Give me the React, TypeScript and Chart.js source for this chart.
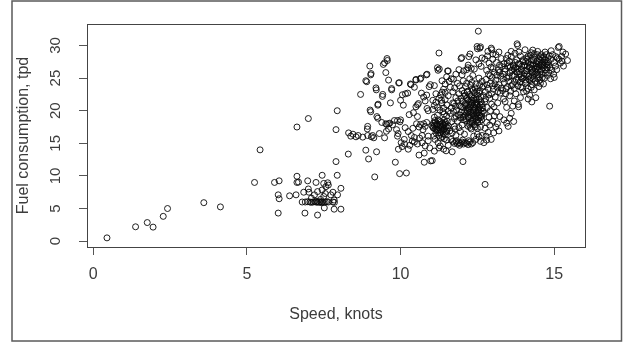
import React, { useEffect, useRef } from "react";
import { Chart, registerables } from "chart.js";

Chart.register(...registerables);

const xTicks = [0, 5, 10, 15];
const yTicks = [0, 5, 10, 15, 20, 25, 30];
const xTitle = "Speed, knots";
const yTitle = "Fuel consumption, tpd";

const lowSpeed: number[][] = [
  [0.45, 0.5], [1.38, 2.2], [1.76, 2.85], [1.95, 2.15], [2.28, 3.8], [2.42, 5.0], [3.6, 5.9], [4.14, 5.25],
];

const slowSteaming: number[][] = [
  [5.25, 9.0], [5.43, 14.0], [5.9, 9.0], [6.05, 9.25], [6.02, 7.1], [6.05, 6.5], [6.02, 4.3], [6.39, 6.95],
  [6.6, 7.1], [6.63, 9.95], [6.63, 9.0], [6.68, 9.05], [6.63, 17.5], [7.0, 18.8], [6.85, 7.5], [6.89, 4.3],
  [6.98, 9.25], [7.02, 7.5], [7.2, 7.1], [7.3, 4.0], [7.25, 9.0], [7.45, 10.1], [7.5, 8.85], [7.63, 8.95],
  [7.52, 5.1], [7.73, 7.1], [7.84, 6.3], [7.95, 7.1], [7.94, 10.1], [8.06, 8.1], [7.84, 4.9], [8.06, 4.9],
  [7.9, 12.2], [7.9, 17.1], [7.94, 20.0], [7.45, 7.85], [7.57, 8.35], [7.8, 7.5], [7.5, 6.85], [7.0, 8.0],
  [7.3, 7.6], [7.65, 8.6], [7.55, 7.3], [7.1, 6.6], [7.4, 6.4],
];

const sixTpd: number[][] = [
  [6.8, 6.0], [6.9, 6.0], [6.98, 6.05], [7.05, 6.0], [7.1, 5.95], [7.15, 6.0], [7.2, 6.05], [7.25, 6.0],
  [7.3, 5.95], [7.35, 6.0], [7.4, 6.05], [7.45, 6.0], [7.5, 5.95], [7.55, 6.0], [7.6, 6.05], [7.65, 6.0],
  [7.8, 6.0], [7.85, 5.95], [7.42, 5.9], [7.28, 6.1],
];

const transition: number[][] = [
  [8.3, 13.35], [8.31, 16.6], [8.38, 16.1], [8.55, 16.0], [8.7, 22.5], [8.77, 15.95], [8.87, 13.95], [8.93, 16.2],
  [8.96, 12.6], [9.0, 26.85], [8.9, 24.45], [9.03, 25.5], [9.03, 19.85], [8.92, 17.2], [9.09, 16.2], [9.13, 15.85],
  [9.16, 9.85], [9.22, 13.7], [9.21, 23.2], [9.26, 18.85], [9.26, 20.85], [9.31, 16.5], [9.39, 18.2], [9.41, 22.2],
  [9.44, 27.1], [9.48, 27.35], [9.52, 25.85], [9.57, 27.7], [9.61, 24.7], [9.52, 18.0], [9.61, 18.0], [9.74, 17.85],
  [9.48, 15.85], [9.54, 16.85], [9.61, 17.2], [9.67, 21.2], [9.71, 23.2], [9.83, 12.1], [9.8, 18.5], [9.87, 17.1],
  [9.9, 16.1], [9.93, 14.1], [9.94, 24.25], [9.97, 10.35], [9.56, 28.0], [9.04, 25.7], [8.87, 24.6], [9.2, 23.5],
  [9.42, 22.5], [9.71, 23.4], [9.96, 24.3], [9.27, 21.0], [9.01, 20.1], [9.23, 19.1], [8.93, 17.6], [9.55, 17.9],
  [9.65, 18.1], [9.9, 18.5], [9.98, 18.3], [9.92, 16.5], [8.45, 16.4], [8.62, 16.2], [9.05, 16.0],
];

const band10: number[][] = [
  [10.02, 15.1], [10.05, 14.5], [10.12, 15.6], [10.25, 14.1], [10.38, 15.35], [10.3, 14.7], [10.45, 15.2], [10.55, 14.9],
  [10.62, 15.8], [10.7, 15.1], [10.8, 14.6], [10.9, 15.4], [10.95, 14.3], [10.0, 18.6], [10.0, 21.6], [10.06, 22.45],
  [10.09, 20.85], [10.16, 22.6], [10.23, 22.7], [10.32, 24.1], [10.34, 24.0], [10.45, 23.6], [10.5, 24.7], [10.5, 24.8],
  [10.66, 25.0], [10.64, 24.85], [10.68, 22.7], [10.84, 25.5], [10.86, 25.6], [10.97, 24.0], [10.93, 23.7], [10.52, 18.0],
  [10.55, 19.1], [10.58, 21.1], [10.5, 20.6], [10.55, 20.9], [10.73, 17.1], [10.6, 17.5], [10.65, 17.9], [10.75, 18.0],
  [10.8, 17.6], [10.85, 18.2], [10.9, 16.1], [10.86, 20.35], [10.9, 20.0], [10.8, 21.5], [10.75, 22.1], [10.85, 22.4],
  [10.7, 16.2], [10.35, 16.2], [10.45, 15.9], [10.25, 16.8], [10.15, 17.4], [10.4, 17.3], [10.77, 13.5], [10.77, 12.1],
  [10.6, 13.2], [10.98, 12.3], [10.19, 10.45], [10.13, 14.9], [10.28, 19.4], [10.42, 19.7],
];

const band11a: number[][] = [
  [11.03, 12.35], [11.07, 18.1], [11.1, 23.85], [11.16, 17.1], [11.2, 26.6], [11.25, 28.85], [11.22, 15.1], [11.29, 14.6],
  [11.33, 21.6], [11.35, 22.85], [11.38, 19.85], [11.42, 18.6], [11.46, 16.35], [11.48, 13.85], [11.55, 26.1], [11.26, 26.4],
  [11.22, 26.2], [11.53, 26.1], [11.05, 17.5], [11.1, 17.8], [11.12, 17.2], [11.18, 17.6], [11.2, 18.0], [11.25, 17.4],
  [11.28, 17.9], [11.3, 17.1], [11.32, 18.3], [11.35, 17.6], [11.38, 17.0], [11.4, 17.8], [11.43, 17.3], [11.45, 18.2],
  [11.48, 17.6], [11.5, 16.9], [11.52, 18.4], [11.55, 17.7], [11.15, 16.6], [11.24, 16.2], [11.36, 16.0], [11.42, 15.7],
  [11.5, 15.5], [11.3, 15.8], [11.12, 15.6], [11.08, 16.1], [11.05, 20.2], [11.1, 20.8], [11.15, 21.3], [11.2, 20.5],
  [11.25, 21.9], [11.28, 20.1], [11.35, 21.2], [11.4, 20.4], [11.45, 21.7], [11.5, 20.9], [11.55, 19.9], [11.5, 19.2],
  [11.42, 19.5], [11.2, 19.3], [11.1, 19.0], [11.3, 22.4], [11.45, 22.8], [11.4, 23.3], [11.55, 22.3], [11.15, 22.6],
  [11.05, 21.6], [11.25, 14.3], [11.4, 14.1], [11.55, 14.7], [11.1, 13.8], [11.45, 24.1], [11.35, 24.6], [11.5, 25.2],
  [11.58, 24.5],
];

const core11: number[][] = [
  [11.07, 17.33], [11.13, 18.21], [11.17, 17.91], [11.23, 17.07], [11.27, 18.44], [11.31, 17.52], [11.34, 16.88],
  [11.37, 18.07], [11.41, 17.12], [11.44, 17.96], [11.47, 16.73], [11.53, 17.37], [11.19, 16.97], [11.29, 16.58],
  [11.39, 16.42], [11.22, 18.62], [11.11, 18.47], [11.02, 17.73],
];

const band11b: number[][] = [
  [11.62, 23.6], [11.64, 15.6], [11.68, 13.7], [11.72, 24.85], [11.74, 21.1], [11.77, 17.2], [11.81, 19.1], [11.97, 28.0],
  [12.0, 25.5], [12.03, 12.2], [11.99, 28.15], [11.75, 15.0], [11.8, 15.2], [11.85, 14.9], [11.9, 15.1], [11.95, 15.0],
  [12.0, 15.2], [12.05, 14.9], [12.1, 15.1], [11.82, 15.4], [11.92, 14.7], [12.02, 15.5], [11.7, 15.3], [11.62, 19.6],
  [11.65, 20.4], [11.66, 18.3], [11.7, 21.2], [11.72, 19.9], [11.75, 18.8], [11.78, 20.7], [11.8, 22.0], [11.82, 20.1],
  [11.85, 18.4], [11.86, 21.5], [11.88, 19.4], [11.9, 22.6], [11.92, 20.8], [11.95, 18.9], [11.96, 21.9], [11.98, 19.8],
  [12.0, 23.1], [12.02, 20.5], [12.05, 18.6], [12.06, 22.2], [12.08, 19.2], [11.7, 22.9], [11.76, 23.5], [11.85, 24.2],
  [11.92, 23.8], [12.04, 24.6], [11.65, 24.9], [11.8, 25.6], [11.9, 26.3], [12.05, 26.1], [11.68, 16.6], [11.8, 16.2],
  [11.95, 16.8], [12.08, 16.4], [11.75, 17.6], [11.9, 17.4], [12.0, 17.8], [11.6, 16.9],
];

const band12a: number[][] = [
  [12.07, 22.7], [12.19, 26.6], [12.26, 28.7], [12.32, 24.35], [12.38, 16.1], [12.45, 21.1], [12.49, 29.85], [12.53, 32.2],
  [12.58, 29.6], [12.65, 28.1], [12.71, 15.1], [12.75, 8.7], [12.5, 29.5], [12.6, 29.8], [12.2, 27.0], [12.22, 28.3],
  [12.15, 26.3], [12.3, 26.5], [12.4, 26.4], [12.45, 27.8], [12.55, 27.2], [12.62, 26.8], [12.12, 18.5], [12.14, 19.6],
  [12.15, 20.8], [12.16, 21.9], [12.18, 23.0], [12.2, 19.1], [12.22, 20.3], [12.24, 21.4], [12.25, 22.5], [12.26, 18.2],
  [12.28, 19.8], [12.3, 20.9], [12.32, 22.0], [12.33, 23.3], [12.35, 18.7], [12.36, 19.4], [12.38, 20.6], [12.4, 21.6],
  [12.41, 22.8], [12.43, 19.0], [12.44, 20.1], [12.46, 18.4], [12.48, 21.3], [12.5, 22.4], [12.5, 19.7], [12.52, 20.5],
  [12.54, 18.9], [12.55, 21.8], [12.57, 23.0], [12.58, 19.3], [12.6, 20.2], [12.62, 22.1], [12.64, 18.6], [12.65, 21.0],
  [12.66, 23.6], [12.68, 19.9], [12.2, 17.6], [12.3, 17.2], [12.4, 17.8], [12.5, 17.3], [12.6, 17.5], [12.15, 24.2],
  [12.25, 24.9], [12.35, 25.4], [12.45, 24.1], [12.55, 25.0], [12.65, 24.5], [12.12, 23.7], [12.28, 23.9], [12.42, 23.5],
  [12.58, 24.0], [12.22, 21.0], [12.34, 21.2], [12.46, 20.8], [12.56, 20.6], [12.18, 19.9], [12.4, 19.2], [12.15, 15.0],
  [12.2, 14.8], [12.25, 15.2], [12.3, 14.9], [12.22, 15.4], [12.35, 15.1], [12.45, 15.6], [12.55, 16.0], [12.6, 15.3],
  [12.5, 16.4], [12.65, 16.2],
];

const core12: number[][] = [
  [11.93, 19.35], [11.97, 20.62], [12.01, 21.47], [12.04, 19.03], [12.09, 20.91], [12.11, 22.34], [12.13, 18.77],
  [12.17, 20.12], [12.19, 21.66], [12.21, 18.93], [12.23, 19.71], [12.27, 20.58], [12.29, 22.17], [12.31, 19.26],
  [12.34, 18.42], [12.37, 20.03], [12.39, 21.92], [12.42, 20.44], [12.44, 18.81], [12.47, 19.52], [12.49, 21.07],
  [12.51, 18.23], [12.53, 19.94], [12.56, 22.69], [12.59, 20.87], [12.61, 18.97], [12.63, 19.63], [12.67, 20.49],
  [12.69, 22.33], [12.24, 17.88], [12.33, 18.06], [12.43, 17.52], [12.52, 18.61], [12.17, 22.87], [12.36, 23.11],
  [12.48, 22.96], [12.27, 17.43], [12.61, 21.38], [12.09, 19.87], [12.41, 20.97], [12.54, 20.13], [12.31, 21.61],
  [12.2, 20.49], [12.38, 19.69], [12.64, 19.18], [12.12, 21.12], [12.46, 21.74], [12.57, 18.31],
];

const band12b: number[][] = [
  [12.78, 16.1], [12.84, 29.1], [12.97, 29.35], [13.03, 16.6], [13.1, 17.5], [13.23, 19.1], [12.95, 29.6], [13.0, 28.7],
  [12.72, 19.6], [12.74, 21.4], [12.76, 22.9], [12.78, 24.8], [12.8, 26.2], [12.82, 20.5], [12.85, 23.4], [12.86, 25.6],
  [12.88, 27.3], [12.9, 21.9], [12.92, 24.2], [12.94, 26.7], [12.96, 22.6], [12.98, 25.1], [13.0, 27.9], [13.02, 23.3],
  [13.04, 20.6], [13.06, 25.9], [13.08, 22.1], [13.1, 24.7], [13.12, 27.4], [13.14, 23.6], [13.16, 21.2], [13.18, 26.3],
  [13.2, 24.0], [13.22, 27.0], [13.24, 22.7], [13.26, 25.3], [13.28, 28.0], [12.75, 17.3], [12.8, 18.2], [12.85, 16.7],
  [12.9, 17.8], [12.95, 15.6], [13.0, 18.4], [13.05, 19.2], [13.15, 18.0], [13.2, 16.9], [12.8, 15.5], [12.88, 19.0],
  [12.92, 20.0], [12.74, 27.9], [12.83, 28.4], [13.1, 28.6], [13.2, 29.0], [12.7, 23.8], [12.96, 21.0], [13.12, 19.8],
  [12.77, 21.83], [12.81, 23.97], [12.87, 22.41], [12.91, 25.36], [12.99, 23.79], [13.01, 26.46], [13.07, 24.12],
  [13.13, 25.44], [13.17, 22.93], [13.21, 25.88], [13.27, 23.46], [13.29, 26.77],
];

const band13: number[][] = [
  [13.36, 18.6], [13.45, 18.1], [13.49, 28.5], [13.55, 18.85], [13.68, 18.35], [13.81, 30.0], [13.84, 20.6], [13.79, 30.26],
  [13.83, 20.96], [13.6, 19.6], [13.5, 17.6], [13.7, 21.5], [13.9, 22.0], [13.65, 20.7], [13.32, 23.1], [13.34, 25.6],
  [13.36, 27.2], [13.38, 24.3], [13.4, 26.4], [13.42, 22.6], [13.44, 28.0], [13.46, 25.0], [13.48, 23.7], [13.5, 26.9],
  [13.52, 24.5], [13.54, 27.6], [13.56, 25.8], [13.58, 23.0], [13.6, 28.3], [13.62, 26.2], [13.64, 24.0], [13.66, 27.0],
  [13.68, 25.4], [13.7, 23.4], [13.72, 28.8], [13.74, 26.6], [13.76, 24.8], [13.78, 27.8], [13.8, 25.9], [13.82, 23.8],
  [13.84, 27.2], [13.86, 26.0], [13.88, 24.4], [13.9, 28.4], [13.92, 25.2], [13.94, 26.8], [13.96, 23.5], [13.98, 27.5],
  [13.4, 21.4], [13.55, 22.3], [13.75, 22.6], [13.95, 24.9], [13.85, 29.0], [13.6, 29.1], [13.45, 20.5], [13.35, 21.8],
  [13.33, 24.88], [13.39, 26.03], [13.43, 23.37], [13.47, 27.34], [13.53, 25.21], [13.57, 26.69], [13.61, 23.84], [13.69, 26.41],
];

const band14: number[][] = [
  [14.05, 29.35], [14.27, 21.35], [14.46, 29.1], [14.65, 24.1], [14.3, 29.3], [14.02, 25.3], [14.04, 27.0], [14.06, 24.2],
  [14.08, 26.2], [14.1, 28.1], [14.12, 25.6], [14.14, 23.4], [14.16, 27.4], [14.18, 24.8], [14.2, 26.6], [14.22, 28.5],
  [14.24, 25.1], [14.26, 27.8], [14.28, 24.0], [14.3, 26.0], [14.32, 27.2], [14.34, 25.5], [14.36, 28.2], [14.38, 24.5],
  [14.4, 26.9], [14.42, 25.8], [14.44, 27.6], [14.46, 24.9], [14.48, 26.3], [14.5, 28.0], [14.52, 25.2], [14.54, 27.0],
  [14.56, 26.0], [14.58, 28.6], [14.6, 25.6], [14.62, 27.3], [14.64, 26.6], [14.66, 28.3], [14.68, 25.0], [14.7, 27.8],
  [14.72, 26.3], [14.74, 28.6], [14.76, 27.0], [14.78, 25.4], [14.0, 22.9], [14.1, 23.0], [14.2, 22.4], [14.35, 23.2],
  [14.5, 23.7], [14.15, 21.8], [14.4, 22.0], [14.55, 24.2], [14.08, 24.7], [14.28, 26.4], [14.44, 26.7], [14.6, 27.0],
  [14.25, 28.9], [14.45, 28.6], [14.7, 29.0], [14.12, 26.8],
];

const core14: number[][] = [
  [13.63, 25.37], [13.67, 26.83], [13.71, 24.42], [13.73, 27.41], [13.77, 25.93], [13.81, 26.47], [13.83, 24.73],
  [13.87, 27.12], [13.89, 25.61], [13.93, 26.32], [13.97, 24.96], [14.01, 26.88], [14.03, 25.74], [14.07, 27.53],
  [14.09, 24.38], [14.11, 26.11], [14.13, 27.92], [14.17, 25.27], [14.19, 26.64], [14.21, 24.61], [14.23, 27.06],
  [14.27, 25.83], [14.29, 26.97], [14.31, 24.87], [14.33, 27.67], [14.37, 25.98], [14.39, 26.42], [14.41, 27.23],
  [14.43, 24.26], [14.47, 25.55], [14.49, 27.38], [14.51, 26.72], [14.53, 24.67], [14.57, 27.71], [14.59, 26.31],
  [14.61, 25.09], [14.63, 28.02], [14.67, 26.91], [14.69, 27.44], [14.71, 25.76], [14.73, 27.17], [14.77, 26.58],
  [14.79, 28.12], [14.81, 27.01], [13.99, 27.83], [14.15, 28.38], [14.35, 28.74], [14.55, 28.27], [13.91, 23.62],
  [14.25, 23.58],
];

const band15: number[][] = [
  [14.85, 20.7], [14.82, 25.85], [15.04, 26.85], [15.13, 29.7], [15.24, 28.35], [15.3, 26.85], [15.43, 27.7], [15.37, 28.7],
  [15.16, 29.85], [15.2, 27.3], [15.1, 28.1], [14.8, 27.5], [14.84, 28.4], [14.86, 26.6], [14.88, 24.9], [14.9, 27.9],
  [14.92, 26.2], [14.95, 28.6], [14.98, 25.6], [15.0, 27.4], [15.05, 28.3], [15.08, 26.3], [15.15, 27.9], [15.25, 27.6],
  [15.28, 29.0], [14.9, 29.2], [15.0, 25.1],
];

const allGroups = [
  lowSpeed, slowSteaming, sixTpd, transition, band10, band11a, core11, band11b,
  band12a, core12, band12b, band13, band14, core14, band15,
];

const INK = "#3c3c3c";
const NARROW = "'Liberation Sans Narrow', 'Liberation Sans', Arial, sans-serif";
const REGULAR = "'Liberation Sans', Arial, sans-serif";

const framePlugin = {
  id: "rframe",
  afterDraw(chart: any) {
    const { ctx, chartArea } = chart;
    ctx.save();
    ctx.strokeStyle = "#444";
    ctx.lineWidth = 1;
    ctx.strokeRect(
      Math.round(chartArea.left) + 0.5,
      Math.round(chartArea.top) + 0.5,
      Math.round(chartArea.right - chartArea.left),
      Math.round(chartArea.bottom - chartArea.top)
    );
    ctx.strokeStyle = "#5a5a5a";
    ctx.lineWidth = 1.5;
    ctx.strokeRect(12, 1, 609.5, 340);
    ctx.restore();
  },
};

export default function App() {
  const ref = useRef<HTMLCanvasElement | null>(null);
  useEffect(() => {
    if (!ref.current) return;
    const data = allGroups.flat().map(([x, y]) => ({ x, y }));
    const chart = new Chart(ref.current, {
      type: "scatter",
      data: {
        datasets: [
          {
            data,
            pointStyle: "circle",
            pointRadius: 3,
            pointBorderWidth: 1,
            pointBackgroundColor: "rgba(0,0,0,0)",
            pointBorderColor: "rgba(10,10,10,0.9)",
          },
        ],
      },
      options: {
        responsive: false,
        animation: false,
        events: [],
        layout: { padding: { left: 0, top: 19, right: 38, bottom: 0 } },
        plugins: { legend: { display: false }, tooltip: { enabled: false } },
        scales: {
          x: {
            type: "linear",
            min: -0.2,
            max: 16.0,
            afterBuildTicks: (s: any) => {
              s.ticks = xTicks.map((v) => ({ value: v }));
            },
            afterFit: (s: any) => {
              s.height = 95;
            },
            border: { display: false },
            grid: { drawOnChartArea: false, drawTicks: true, tickLength: 8, color: "#555", lineWidth: 1 },
            ticks: { color: INK, font: { family: NARROW, size: 16 }, padding: 10, maxRotation: 0, minRotation: 0 },
            title: { display: true, text: xTitle, color: INK, font: { family: NARROW, size: 16 }, padding: { top: 0, bottom: 18 } },
          },
          y: {
            type: "linear",
            min: -0.9,
            max: 33.3,
            afterBuildTicks: (s: any) => {
              s.ticks = yTicks.map((v) => ({ value: v }));
            },
            afterFit: (s: any) => {
              s.width = 87;
            },
            border: { display: false },
            grid: { drawOnChartArea: false, drawTicks: true, tickLength: 8, color: "#555", lineWidth: 1 },
            ticks: { color: INK, font: { family: REGULAR, size: 15 }, padding: 15, minRotation: 90, maxRotation: 90, crossAlign: "center" },
            title: { display: true, text: yTitle, color: INK, font: { family: REGULAR, size: 16 }, padding: { top: 14, bottom: 0 } },
          },
        },
      },
      plugins: [framePlugin],
    } as any);
    return () => chart.destroy();
  }, []);
  return (
    <div style={{ position: "absolute", left: 0, top: 0, width: 623, height: 342, background: "#fff" }}>
      <canvas ref={ref} width={623} height={342} style={{ display: "block", width: 623, height: 342 }} />
    </div>
  );
}
